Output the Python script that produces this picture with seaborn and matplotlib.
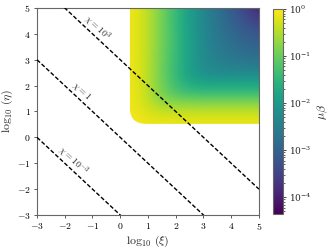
import numpy as np
import pandas as pd
import matplotlib
matplotlib.use("Agg")
import matplotlib.pyplot as plt
import seaborn as sns
from matplotlib.colors import LogNorm
from matplotlib.patches import FancyBboxPatch

# ---- data ----
# grid of log10(xi) and log10(eta) sample positions of the coloured field
log_xi_grid = [0.35, 1.125, 1.9, 2.675, 3.45, 4.225, 5.0]
log_eta_grid = [0.52, 1.27, 2.01, 2.76, 3.51, 4.25, 5.0]
# log10(mu*beta) at each grid point; rows go from bottom (eta=0.52) to top (eta=5)
log_mubeta = [
    [-0.05, -0.08, -0.08, -0.08, -0.08, -0.08, -0.08],
    [-0.05, -0.65, -1.00, -1.10, -1.10, -1.10, -1.10],
    [-0.05, -0.78, -1.50, -2.05, -2.05, -2.05, -2.05],
    [-0.05, -0.80, -1.55, -2.20, -2.45, -2.60, -2.70],
    [-0.05, -0.75, -1.50, -2.20, -2.60, -2.85, -3.00],
    [-0.05, -0.75, -1.55, -2.25, -2.70, -3.10, -3.50],
    [-0.05, -0.75, -1.55, -2.25, -2.80, -3.45, -4.30],
]
# constant-chi lines: log10(eta) = log10(chi) - log10(xi)
chi_values = [1e3, 1.0, 1e-3]
chi_labels = [r"$\chi = 10^3$", r"$\chi = 1$", r"$\chi = 10^{-3}$"]
label_xi = [-1.0, -1.55, -1.88]
xi_line = [-3.0, 5.0]
cbar_min, cbar_max = 4.4e-5, 1.0
xticks = [-3, -2, -1, 0, 1, 2, 3, 4, 5]
yticks = [-3, -2, -1, 0, 1, 2, 3, 4, 5]

# ---- style ----
sns.set_style("ticks")
plt.rcParams["font.family"] = ["DejaVu Serif"]
plt.rcParams["mathtext.fontset"] = "cm"

fig = plt.figure(figsize=(3.29, 2.49), dpi=100)
ax = fig.add_axes([0.1125, 0.1365, 0.6745, 0.8315])
cax = fig.add_axes([0.830, 0.1406, 0.0304, 0.8234])

# ---- coloured field ----
field = 10.0 ** np.array(log_mubeta)
dx = (log_xi_grid[-1] - log_xi_grid[0]) / (len(log_xi_grid) - 1)
dy = (log_eta_grid[-1] - log_eta_grid[0]) / (len(log_eta_grid) - 1)
extent = (log_xi_grid[0] - dx / 2, log_xi_grid[-1] + dx / 2,
          log_eta_grid[0] - dy / 2, log_eta_grid[-1] + dy / 2)
norm = LogNorm(vmin=cbar_min, vmax=cbar_max)
im = ax.imshow(field, origin="lower", extent=extent, aspect="auto",
               cmap="viridis", norm=norm, interpolation="bicubic",
               interpolation_stage="data", zorder=1)
clip = FancyBboxPatch((log_xi_grid[0], log_eta_grid[0]),
                      log_xi_grid[-1] - log_xi_grid[0] + 1.0,
                      log_eta_grid[-1] - log_eta_grid[0] + 1.0,
                      boxstyle="round,pad=0,rounding_size=0.6",
                      transform=ax.transData)
im.set_clip_path(clip)

# ---- chi lines ----
rows = []
for chi, lab in zip(chi_values, chi_labels):
    for x in xi_line:
        rows.append({"xi": x, "eta": np.log10(chi) - x, "chi": lab})
lines = pd.DataFrame(rows)
sns.lineplot(data=lines, x="xi", y="eta", units="chi", estimator=None,
             color="black", linestyle=(0, (3, 1.5)), linewidth=1.0, ax=ax,
             zorder=3, legend=False)

ax.set_xlim(-3, 5)
ax.set_ylim(-3, 5)

# label rotation along the lines in screen coordinates
fig.canvas.draw()
p0 = ax.transData.transform((0, 0))
p1 = ax.transData.transform((1, -1))
angle = np.degrees(np.arctan2(p1[1] - p0[1], p1[0] - p0[0]))
for chi, lab, lx in zip(chi_values, chi_labels, label_xi):
    ly = np.log10(chi) - lx
    ax.annotate(lab, (lx, ly), xytext=(3, 4), textcoords="offset points",
                rotation=angle, rotation_mode="anchor", ha="center",
                va="center", fontsize=6.8, zorder=4)

ax.set_xticks(xticks)
ax.set_yticks(yticks)
ax.set_xticklabels([f"${t}$" for t in xticks], fontsize=7)
ax.set_yticklabels([f"${t}$" for t in yticks], fontsize=7)
ax.set_xlabel(r"$\log_{10}\,(\xi)$", fontsize=8.5, labelpad=1)
ax.set_ylabel(r"$\log_{10}\,(\eta)$", fontsize=8.5, labelpad=1)
ax.tick_params(length=2.5, width=0.6, pad=2, colors="0.25", labelcolor="black")
for s in ax.spines.values():
    s.set_visible(True)
    s.set_color("0.4")
    s.set_linewidth(0.8)

cb = fig.colorbar(im, cax=cax)
cb.set_label(r"$\mu\beta$", fontsize=8.5, labelpad=3)
cb.ax.tick_params(labelsize=6.5, length=2.5, width=0.6, pad=2)
cb.ax.tick_params(which="minor", length=1.5, width=0.5)
cb.outline.set_edgecolor("0.4")
cb.outline.set_linewidth(0.8)

fig.savefig("out.png", dpi=100)
